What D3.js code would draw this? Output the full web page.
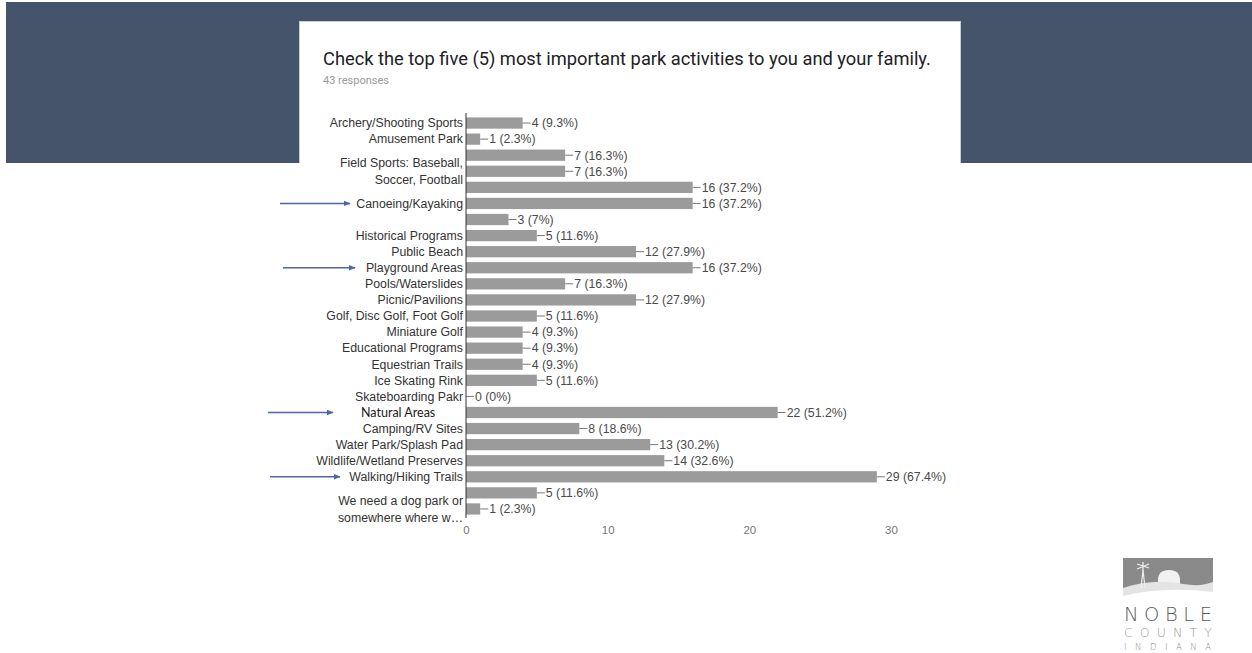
<!DOCTYPE html>
<html>
<head>
<meta charset="utf-8">
<script src="https://cdn.jsdelivr.net/npm/d3@7"></script>
<style>
  html, body { margin: 0; padding: 0; background: #fff; }
  svg { display: block; }
</style>
</head>
<body>
<script>

// data
var rowLabels = [
  ['Archery/Shooting Sports'], ['Amusement Park'], [], ['Field Sports: Baseball,', 'Soccer, Football'],
  [], ['Canoeing/Kayaking'], [], ['Historical Programs'], ['Public Beach'], ['Playground Areas'],
  ['Pools/Waterslides'], ['Picnic/Pavilions'], ['Golf, Disc Golf, Foot Golf'], ['Miniature Golf'],
  ['Educational Programs'], ['Equestrian Trails'], ['Ice Skating Rink'], ['Skateboarding Pakr'],
  [], ['Camping/RV Sites'], ['Water Park/Splash Pad'], ['Wildlife/Wetland Preserves'],
  ['Walking/Hiking Trails'], [], ['We need a dog park or', 'somewhere where w\u2026']
];
var counts = [4, 1, 7, 7, 16, 16, 3, 5, 12, 16, 7, 12, 5, 4, 4, 4, 5, 0, 22, 8, 13, 14, 29, 5, 1];
var percents = ['9.3%', '2.3%', '16.3%', '16.3%', '37.2%', '37.2%', '7%', '11.6%', '27.9%', '37.2%',
  '16.3%', '27.9%', '11.6%', '9.3%', '9.3%', '9.3%', '11.6%', '0%', '51.2%', '18.6%', '30.2%',
  '32.6%', '67.4%', '11.6%', '2.3%'];
var xTicks = [0, 10, 20, 30];
var overlayLabel = { row: 18, text: 'Natural Areas' };
var arrowRows = [5, 9, 18, 22];

var title = 'Check the top five (5) most important park activities to you and your family.';
var subtitle = '43 responses';

var W = 1252, H = 653;

var svg = d3.select('body').append('svg')
  .attr('width', W)
  .attr('height', H);

// arrow marker
var defs = svg.append('defs');
defs.append('marker')
  .attr('id', 'arrowhead')
  .attr('viewBox', '0 0 10 10')
  .attr('refX', 9)
  .attr('refY', 5)
  .attr('markerWidth', 7)
  .attr('markerHeight', 7)
  .attr('markerUnits', 'userSpaceOnUse')
  .attr('orient', 'auto')
  .append('path')
  .attr('d', 'M 0 1 L 10 5 L 0 9 Z')
  .style('fill', '#4b68a3');

// slide background
svg.append('rect')
  .attr('x', 6).attr('y', 2)
  .attr('width', W - 6).attr('height', 161)
  .attr('fill', '#45546a');

// white form card
svg.append('rect')
  .attr('x', 299).attr('y', 21)
  .attr('width', 662).attr('height', 142)
  .attr('fill', '#c9ced6');
svg.append('rect')
  .attr('x', 300).attr('y', 22)
  .attr('width', 660).attr('height', 540)
  .attr('fill', '#ffffff');

svg.append('text')
  .attr('x', 323).attr('y', 65)
  .attr('font-family', 'Roboto, Arial, sans-serif')
  .attr('font-size', 18.3)
  .attr('fill', '#202124')
  .text(title);

svg.append('text')
  .attr('x', 323).attr('y', 84)
  .attr('font-family', 'Roboto, Arial, sans-serif')
  .attr('font-size', 11)
  .attr('fill', '#9a9a9a')
  .text(subtitle);

// scales
var x = d3.scaleLinear().domain([0, 30]).range([466, 891]);
var y = d3.scaleBand()
  .domain(d3.range(counts.length))
  .range([115, 517])
  .paddingInner(0.3)
  .paddingOuter(0.15);

var chart = svg.append('g').attr('class', 'chart');

// bars
chart.selectAll('rect.bar')
  .data(counts)
  .join('rect')
  .attr('class', 'bar')
  .attr('x', x(0))
  .attr('y', function (d, i) { return y(i); })
  .attr('width', function (d) { return x(d) - x(0); })
  .attr('height', y.bandwidth())
  .attr('fill', '#9b9b9b');

// value callouts
var valG = chart.selectAll('g.val')
  .data(counts)
  .join('g')
  .attr('class', 'val')
  .attr('transform', function (d, i) { return 'translate(' + x(d) + ',' + (y(i) + y.bandwidth() / 2) + ')'; });
valG.append('line')
  .attr('x1', 0).attr('x2', 8)
  .attr('stroke', '#777').attr('stroke-width', 1);
valG.append('text')
  .attr('x', 9)
  .attr('dy', '0.35em')
  .attr('font-family', 'Arial, "Liberation Sans", sans-serif')
  .attr('font-size', 12.3)
  .attr('fill', '#4a4a4a')
  .text(function (d, i) { return d + ' (' + percents[i] + ')'; });

// category labels
var labG = chart.selectAll('text.cat')
  .data(rowLabels)
  .join('text')
  .attr('class', 'cat')
  .attr('text-anchor', 'end')
  .attr('font-family', 'Arial, "Liberation Sans", sans-serif')
  .attr('font-size', 12.3)
  .attr('fill', '#333');
labG.each(function (lines, i) {
  var cy = y(i) + y.bandwidth() / 2;
  var top = cy - (lines.length - 1) * 8.3;
  d3.select(this).selectAll('tspan')
    .data(lines)
    .join('tspan')
    .attr('x', 463)
    .attr('y', function (d, j) { return top + j * 16.6; })
    .attr('dy', '0.35em')
    .text(function (d) { return d; });
});

// pasted-over label with a different font
var oy = y(overlayLabel.row) + y.bandwidth() / 2;
svg.append('rect')
  .attr('x', 355).attr('y', oy - 8)
  .attr('width', 92).attr('height', 15)
  .attr('fill', '#fff');
svg.append('text')
  .attr('x', 361).attr('y', oy)
  .attr('dy', '0.38em')
  .attr('font-family', 'Lato, "Open Sans", sans-serif')
  .attr('font-size', 12.5)
  .attr('fill', '#1a1a1a')
  .text(overlayLabel.text);

// vertical axis line
chart.append('line')
  .attr('x1', x(0)).attr('x2', x(0))
  .attr('y1', 113).attr('y2', 518)
  .attr('stroke', '#333').attr('stroke-width', 1);

// bottom axis (labels only)
var xAxis = d3.axisBottom(x).tickValues(xTicks).tickSize(0).tickPadding(0);
var axG = chart.append('g')
  .attr('transform', 'translate(0,' + 526 + ')')
  .call(xAxis);
axG.select('.domain').remove();
axG.selectAll('text')
  .attr('font-family', 'Arial, "Liberation Sans", sans-serif')
  .attr('font-size', 11.5)
  .attr('fill', '#777');

// annotation arrows
var arrowX = [[280, 350], [283, 355], [268, 333], [270, 340]];
svg.selectAll('line.arrow')
  .data(arrowRows)
  .join('line')
  .attr('class', 'arrow')
  .attr('x1', function (d, i) { return arrowX[i][0]; })
  .attr('x2', function (d, i) { return arrowX[i][1]; })
  .attr('y1', function (d) { return y(d) + y.bandwidth() / 2; })
  .attr('y2', function (d) { return y(d) + y.bandwidth() / 2; })
  .attr('stroke', '#4b68a3')
  .attr('stroke-width', 1.5)
  .attr('marker-end', 'url(#arrowhead)');

// logo
var logo = svg.append('g').attr('transform', 'translate(1123,558)');
logo.append('rect')
  .attr('width', 90).attr('height', 40)
  .attr('fill', '#8a8a8a');
logo.append('path')
  .attr('d', 'M35,30 L35,22 Q35,12 46,12 Q57,12 57,22 L57,30 Z')
  .attr('fill', '#f2f2f2');
logo.append('path')
  .attr('d', 'M0,30 Q30,20 60,26 Q78,29 90,24 L90,42 L0,42 Z')
  .attr('fill', '#e4e4e4');
logo.append('path')
  .attr('d', 'M0,38 Q40,28 90,34 L90,44 L0,44 Z')
  .attr('fill', '#ffffff');
logo.append('path')
  .attr('d', 'M18,30 L20,12 L22,30')
  .attr('fill', 'none').attr('stroke', '#eee').attr('stroke-width', 1.2);
logo.append('path')
  .attr('d', 'M14,6 L26,10 M14,11 L26,6 M20,4 L20,13')
  .attr('fill', 'none').attr('stroke', '#eee').attr('stroke-width', 1.3);

var logoText = [
  { t: 'NOBLE', y: 63, size: 19.5, len: 88, fill: '#5a5a5a' },
  { t: 'COUNTY', y: 78.5, size: 12.5, len: 88, fill: '#999' },
  { t: 'INDIANA', y: 91.5, size: 8.5, len: 87, fill: '#888' }
];
logo.selectAll('text')
  .data(logoText)
  .join('text')
  .attr('x', 1)
  .attr('y', function (d) { return d.y; })
  .attr('font-family', '"DejaVu Sans", sans-serif')
  .attr('font-weight', 200)
  .attr('font-size', function (d) { return d.size; })
  .attr('textLength', function (d) { return d.len; })
  .attr('lengthAdjust', 'spacing')
  .attr('fill', function (d) { return d.fill; })
  .text(function (d) { return d.t; });

</script>
</body>
</html>
